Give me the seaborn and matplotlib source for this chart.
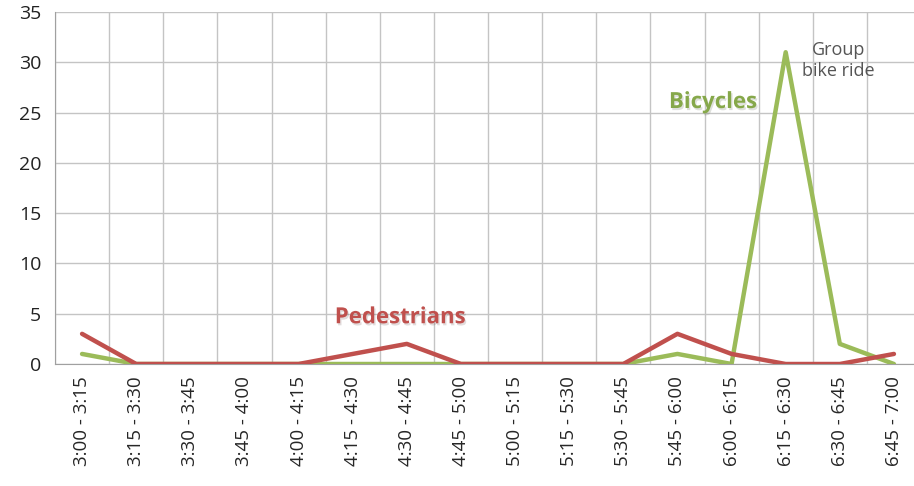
import numpy as np
import pandas as pd
import matplotlib
matplotlib.use("Agg")
import matplotlib.pyplot as plt
import matplotlib.patheffects as pe
from matplotlib.ticker import FixedLocator
import seaborn as sns

# data
intervals = ['3:00 - 3:15', '3:15 - 3:30', '3:30 - 3:45', '3:45 - 4:00',
             '4:00 - 4:15', '4:15 - 4:30', '4:30 - 4:45', '4:45 - 5:00',
             '5:00 - 5:15', '5:15 - 5:30', '5:30 - 5:45', '5:45 - 6:00',
             '6:00 - 6:15', '6:15 - 6:30', '6:30 - 6:45', '6:45 - 7:00']
pedestrians = [3, 0, 0, 0, 0, 1, 2, 0, 0, 0, 0, 3, 1, 0, 0, 1]
bicycles = [1, 0, 0, 0, 0, 0, 0, 0, 0, 0, 0, 1, 0, 31, 2, 0]

red = '#c0504d'
green = '#9bbb59'
grid_col = '#c4c4c4'

sns.set_style('white')
plt.rcParams['font.family'] = ['Open Sans', 'DejaVu Sans']

df = pd.DataFrame({'Interval': intervals, 'Pedestrians': pedestrians, 'Bicycles': bicycles})
df['pos'] = np.arange(len(df))

fig = plt.figure(figsize=(9.14, 4.86), dpi=100)
ax = fig.add_axes([55 / 914, 122 / 486, 866 / 914, 352 / 486])

sns.lineplot(data=df, x='pos', y='Bicycles', color=green, lw=3.2, ax=ax, zorder=3)
sns.lineplot(data=df, x='pos', y='Pedestrians', color=red, lw=3.2, ax=ax, zorder=4)

ax.set_xlim(-0.5, len(intervals) - 0.5)
ax.set_ylim(0, 35)
ax.set_yticks(range(0, 36, 5))
ax.set_xticks(df['pos'])
ax.set_xticklabels(intervals, rotation=90, fontsize=13.5)
ax.xaxis.set_minor_locator(FixedLocator(np.arange(-0.5, len(intervals), 1)))
ax.tick_params(axis='x', which='major', length=0, pad=9)
ax.tick_params(axis='x', which='minor', length=5, color=grid_col, width=1)
ax.tick_params(axis='y', length=5, color=grid_col, labelsize=14, labelcolor='#222222', pad=5)
ax.grid(True, axis='y', color=grid_col, lw=1)
ax.grid(True, axis='x', which='minor', color=grid_col, lw=1)
ax.set_axisbelow(True)
for s in ['top', 'right']:
    ax.spines[s].set_visible(False)
for s in ['left', 'bottom']:
    ax.spines[s].set_color('#a0a0a0')
ax.set_xlabel('')
ax.set_ylabel('')

shadow = [pe.SimplePatchShadow(offset=(1, -1.5), alpha=0.15), pe.Normal()]
ax.text(11.66, 26.0, 'Bicycles', color='#86a84a', fontsize=16, fontweight='bold',
        ha='center', va='center', path_effects=shadow)
ax.text(5.88, 4.6, 'Pedestrians', color=red, fontsize=16, fontweight='bold',
        ha='center', va='center', path_effects=shadow)
ax.text(13.97, 30.2, 'Group\nbike ride', color='#555555', fontsize=13,
        ha='center', va='center', linespacing=1.25)

fig.savefig('out.png', dpi=100)
